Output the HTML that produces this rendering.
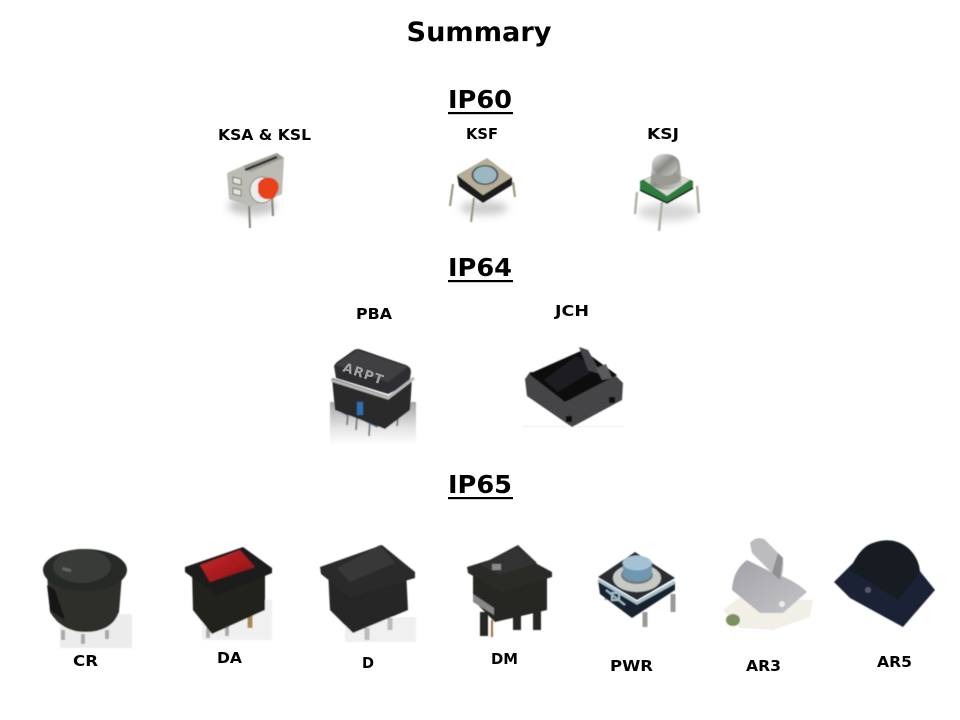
<!DOCTYPE html>
<html><head><meta charset="utf-8"><style>
html,body{margin:0;padding:0;background:#fff}
svg{display:block}
text{font-family:"DejaVu Sans","Liberation Sans",sans-serif;font-weight:bold;fill:#000}
</style></head><body>
<svg width="960" height="720" viewBox="0 0 960 720" xmlns="http://www.w3.org/2000/svg">
<defs>
<filter id="b" x="-30%" y="-50%" width="160%" height="200%"><feGaussianBlur stdDeviation="4"/></filter>
<filter id="s"><feGaussianBlur stdDeviation="0.45"/></filter>
<linearGradient id="bg" x1="0" y1="0" x2="0" y2="1"><stop offset="0" stop-color="#a5a5a5"/><stop offset=".6" stop-color="#e4e4e4"/><stop offset="1" stop-color="#fff"/></linearGradient>
<linearGradient id="dome" x1="0" y1="0" x2="1" y2="1"><stop offset="0" stop-color="#f2f2f2"/><stop offset=".5" stop-color="#8a8a86"/><stop offset="1" stop-color="#d4d4d0"/></linearGradient>
<linearGradient id="red" x1="0" y1="0" x2="1" y2="1"><stop offset="0" stop-color="#c92a2a"/><stop offset="1" stop-color="#8c0f14"/></linearGradient>
<linearGradient id="ar3" x1="0" y1="0" x2="1" y2="1"><stop offset="0" stop-color="#a2a2a8"/><stop offset="1" stop-color="#c4c4c8"/></linearGradient>
</defs>

<text x="479" y="41" font-size="27" text-anchor="middle" textLength="145" lengthAdjust="spacingAndGlyphs">Summary</text>
<text x="480" y="108" font-size="25" text-anchor="middle" textLength="64" lengthAdjust="spacingAndGlyphs">IP60</text>
<rect x="448" y="112" width="65" height="2.2"/>
<text x="480" y="276" font-size="25" text-anchor="middle" textLength="64" lengthAdjust="spacingAndGlyphs">IP64</text>
<rect x="448" y="280" width="65" height="2.2"/>
<text x="480" y="493" font-size="25" text-anchor="middle" textLength="64" lengthAdjust="spacingAndGlyphs">IP65</text>
<rect x="448" y="497" width="65" height="2.2"/>

<g font-size="15">
<text x="218" y="140" textLength="93" lengthAdjust="spacingAndGlyphs">KSA &amp; KSL</text>
<text x="466" y="139" textLength="32" lengthAdjust="spacingAndGlyphs">KSF</text>
<text x="647" y="139" textLength="32" lengthAdjust="spacingAndGlyphs">KSJ</text>
<text x="356" y="319" textLength="36" lengthAdjust="spacingAndGlyphs">PBA</text>
<text x="555" y="316" textLength="34" lengthAdjust="spacingAndGlyphs">JCH</text>
<text x="73" y="666" textLength="25" lengthAdjust="spacingAndGlyphs">CR</text>
<text x="217" y="663" textLength="25" lengthAdjust="spacingAndGlyphs">DA</text>
<text x="362" y="668" textLength="12" lengthAdjust="spacingAndGlyphs">D</text>
<text x="491" y="664" textLength="27" lengthAdjust="spacingAndGlyphs">DM</text>
<text x="610" y="671" textLength="43" lengthAdjust="spacingAndGlyphs">PWR</text>
<text x="746" y="671" textLength="35" lengthAdjust="spacingAndGlyphs">AR3</text>
<text x="877" y="667" textLength="35" lengthAdjust="spacingAndGlyphs">AR5</text>
</g>

<!-- KSA -->
<g filter="url(#s)">
<ellipse cx="252" cy="206" rx="24" ry="9" fill="#c4c4c4" filter="url(#b)"/>
<path d="M249 204 L250 228 M272 198 L273 216" stroke="#8a8a80" stroke-width="2.2" fill="none"/>
<polygon points="227,173 243,166 277,153 284,158 282,194 252,207 229,199" fill="#bcbcb4"/>
<polygon points="243,166 277,153 284,158 250,172" fill="#9c9c94"/>
<path d="M245 170 L277 157" stroke="#2a2a28" stroke-width="2.5"/>
<path d="M233 177 l8 2 v6 l-8 -2 z M233 188 l8 2 v6 l-8 -2 z" fill="#e4e4dc" stroke="#777"/>
<ellipse cx="262" cy="190" rx="12" ry="13" fill="#ececea" stroke="#888"/>
<path d="M258 184 Q262 176 272 178 Q281 182 278 191 L274 198 Q262 202 258 192 Z" fill="#e8431c"/>
</g>

<!-- KSF -->
<g filter="url(#s)">
<ellipse cx="484" cy="208" rx="24" ry="7" fill="#ccc" filter="url(#b)"/>
<path d="M453 184 L450 206 M513 182 L515 197 M474 198 L471 222" stroke="#99997f" stroke-width="2.2" fill="none"/>
<polygon points="457,175 483,195 512,177 512,185 483,203 459,186" fill="#1d1d1d"/>
<polygon points="457,175 487,158 512,177 483,195" fill="#b5ad96"/>
<ellipse cx="485" cy="175" rx="13.5" ry="10" fill="#4a5a5e"/>
<ellipse cx="485" cy="175" rx="11.5" ry="8.5" fill="#9db7c0"/>
</g>

<!-- KSJ -->
<g filter="url(#s)">
<ellipse cx="668" cy="212" rx="30" ry="9" fill="#d8d8d8" filter="url(#b)"/>
<path d="M637 192 L635 214 M697 186 L699 213 M662 202 L659 231" stroke="#b0b0a0" stroke-width="2.4" fill="none"/>
<polygon points="640,181 667,170 693,181 693,188 667,203 640,190" fill="#2f7b3c"/>
<polygon points="644,180 667,170 690,180 667,196" fill="#d8d8d2"/>
<path d="M652 166 Q652 154 665 154 Q679 154 680 166 L682 184 Q666 196 650 184 Z" fill="url(#dome)"/>
<ellipse cx="666" cy="178" rx="15" ry="7" fill="#9a9a94"/>
<ellipse cx="665" cy="165" rx="13" ry="11" fill="url(#dome)"/>
<path d="M640 190 L667 203 L693 188" stroke="#111" stroke-width="1.5" fill="none"/>
</g>

<!-- PBA -->
<g filter="url(#s)">
<rect x="330" y="402" width="86" height="43" fill="url(#bg)"/>
<path d="M348 412 L347 425 M357 416 L356 430 M370 420 L369 436 M398 416 L397 426" stroke="#777" stroke-width="1.8"/>
<path d="M337 408 L348 414 M362 418 L378 426" stroke="#3d6da5" stroke-width="4"/>
<polygon points="332,378 388,396 412,378 410,410 385,429 335,410" fill="#2a2a2c"/>
<rect x="357" y="402" width="6" height="13" fill="#2f6eb0"/>
<path d="M334,366 Q336,362 340,360 L354,350 Q358,348 362,350 L406,365 Q411,367 411,372 L409,384 L388,394 L336,378 Z" fill="#2e2e30"/>
<polygon points="336,365 357,350 408,367 388,382" fill="#414143"/>
<path d="M331 380 L388 398 L414 378" stroke="#b8bab8" stroke-width="3" fill="none"/>
</g>
<text x="342" y="371" font-size="13" style="fill:#a3a3a3;letter-spacing:1px" transform="rotate(19 342 371)">ARPT</text>

<!-- JCH -->
<g filter="url(#s)">
<rect x="522" y="426" width="102" height="1" fill="#eee"/>
<polygon points="525,379 530,372 612,372 623,383 622,400 572,427 527,396" fill="#454547"/>
<polygon points="529,374 583,350 617,375 565,402" fill="#0b0b0d"/>
<polygon points="544,380 576,356 598,368 558,392" fill="#1f1f21"/>
<polygon points="579,347 588,350 602,375 588,370" fill="#454549"/>
<polygon points="596,368 606,364 612,378 602,380" fill="#5a5a5e"/>
<rect x="566" y="416" width="6" height="6" fill="#111"/>
<rect x="609" y="397" width="6" height="6" fill="#111"/>
</g>

<!-- CR -->
<g filter="url(#s)">
<rect x="60" y="614" width="72" height="34" fill="#ececec" filter="url(#s)"/>
<path d="M63 630 V640 M83 634 V644 M107 630 V639" stroke="#aaa" stroke-width="4"/>
<path d="M47 575 L50 612 Q62 632 85 632 Q112 632 119 612 L122 575 Z" fill="#2e2e2c"/>
<ellipse cx="85" cy="570" rx="42" ry="21" fill="#272927"/>
<ellipse cx="82" cy="566" rx="29" ry="17" fill="#383a38"/>
<rect x="62" y="568" width="9" height="3" fill="#666" transform="rotate(15 66 570)"/>
<polygon points="47,585 55,590 65,620 50,610" fill="#151515"/>
</g>

<!-- DA -->
<g filter="url(#s)">
<rect x="202" y="600" width="70" height="40" fill="#f0f0f0"/>
<path d="M208 628 V638 M227 622 V636" stroke="#aaa" stroke-width="4"/>
<path d="M250 613 V628" stroke="#a88a50" stroke-width="5"/>
<polygon points="192,570 265,570 265,610 212,634 193,610" fill="#23231f"/>
<polygon points="185,567 243,547 272,568 272,573 217,596 185,572" fill="#1f1f1d"/>
<polygon points="200,565 240,550 255,567 210,582" fill="url(#red)"/>
</g>

<!-- D -->
<g filter="url(#s)">
<rect x="345" y="617" width="71" height="25" fill="#f0f0f0"/>
<path d="M367 628 V640 M390 618 V630" stroke="#bbb" stroke-width="5"/>
<polygon points="328,570 406,570 408,610 353,633 330,610" fill="#272725"/>
<polygon points="320,567 382,545 415,572 415,578 350,597 321,574" fill="#2c2c2a"/>
<polygon points="337,568 380,545 395,563 350,582" fill="#393937"/>
</g>

<!-- DM -->
<g filter="url(#s)">
<path d="M484 612 V636 M517 608 V630 M537 603 V630" stroke="#252520" stroke-width="8"/>
<path d="M492 620 V637" stroke="#a86a35" stroke-width="2"/>
<polygon points="473,570 547,570 547,610 495,622 473,600" fill="#262624"/>
<polygon points="473,594 494,608 494,615 473,602" fill="#888"/>
<polygon points="467,567 515,552 552,572 552,577 502,592 468,573" fill="#2a2a28"/>
<polygon points="480,565 518,545 537,563 500,575" fill="#333331"/>
<rect x="492" y="564" width="9" height="6" fill="#8a8a88"/>
</g>

<!-- PWR -->
<g filter="url(#s)">
<path d="M645 612 V627 M673 594 V612 M607 595 V600" stroke="#999" stroke-width="5"/>
<polygon points="598,580 637,603 675,582 675,590 632,618 600,594" fill="#16222e"/>
<polygon points="598,577 635,552 675,578 637,600" fill="#2a2e30"/>
<path d="M598 580 L637 603 L675 582" stroke="#a9c0cc" stroke-width="3" fill="none"/>
<path d="M606 590 L625 605 M612 593 h7 v7 h-7z" stroke="#9fb8c6" stroke-width="2" fill="none"/>
<ellipse cx="637" cy="578" rx="24" ry="14" fill="#c7c9c4"/>
<ellipse cx="637" cy="575" rx="16" ry="9" fill="#6f7a80"/>
<rect x="623" y="562" width="29" height="12" fill="#6f97b0"/>
<ellipse cx="637" cy="574" rx="14.5" ry="7.5" fill="#6f97b0"/>
<ellipse cx="637" cy="563" rx="14.5" ry="7.5" fill="#a4c2d3"/>
</g>

<!-- AR3 -->
<g filter="url(#s)">
<polygon points="723,610 740,597 813,600 810,617 773,630 740,628" fill="#f2efe7"/>
<ellipse cx="733" cy="620" rx="7" ry="6" fill="#7c9060"/>
<path d="M732 590 Q733 570 747 560 L773 573 Q795 580 807 592 L783 613 L760 613 Z" fill="url(#ar3)"/>
<path d="M750 543 Q756 536 764 539 L781 556 Q785 560 782 575 L780 580 L772 573 L752 553 Z" fill="#bcbcc0"/>
<path d="M772 573 L780 580 L783 558 L778 553 Z" fill="#8f8f94"/>
<circle cx="782" cy="604" r="3" fill="#ececec"/>
</g>

<!-- AR5 -->
<g filter="url(#s)">
<path d="M834 582 L853 563 Q862 546 873 543 Q893 536 908 548 Q917 556 919 570 L935 590 L903 627 L850 598 Z" fill="#1b2434"/>
<path d="M850 570 Q860 548 873 543 Q893 536 908 548 Q919 558 920 572 L898 600 Z" fill="#171b24"/>
<circle cx="868" cy="590" r="3" fill="#555a66"/>
</g>
</svg>
</body></html>
